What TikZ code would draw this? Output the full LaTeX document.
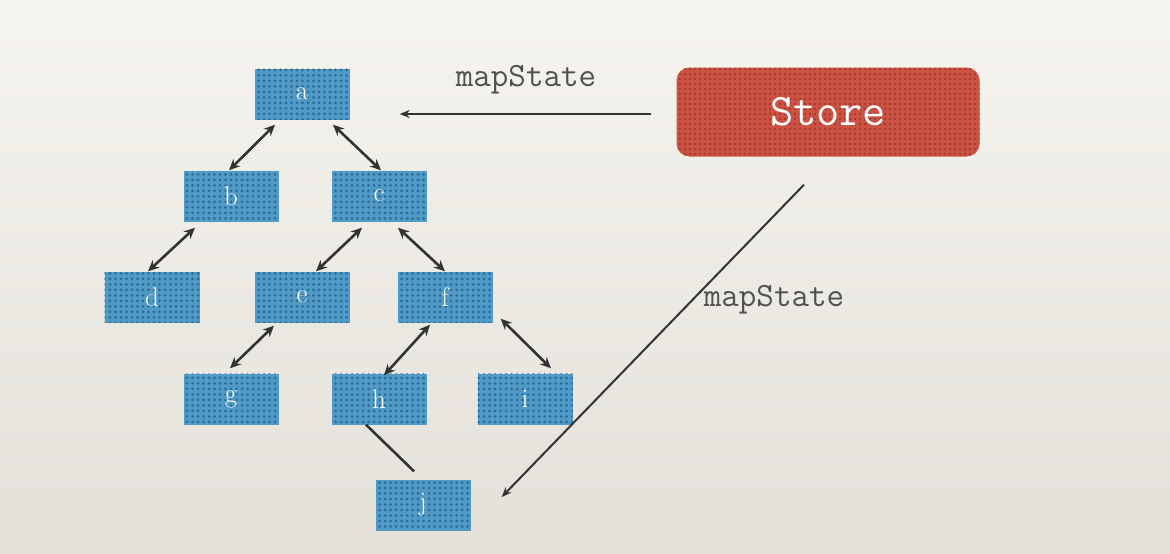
\documentclass[tikz,border=0pt]{standalone}
\usetikzlibrary{arrows.meta,patterns.meta}
\definecolor{bgtop}{HTML}{F6F4EE}
\definecolor{bgbot}{HTML}{E2E0D9}
\definecolor{boxblue}{HTML}{519AC6}
\definecolor{dotblue}{HTML}{2A6A98}
\definecolor{storered}{HTML}{CC5244}
\definecolor{dotred}{HTML}{A63A2E}
\definecolor{linec}{HTML}{333333}
\definecolor{labelc}{HTML}{505050}
\tikzset{
  tbox/.style={rectangle, minimum width=95pt, minimum height=51pt, inner sep=0pt,
    fill=boxblue, postaction={pattern={Dots[radius=1.5pt,distance=5.5pt]}, pattern color=dotblue},
    text=white, font=\fontsize{27}{27}\selectfont},
  storebox/.style={rectangle, rounded corners=13pt, minimum width=303pt, minimum height=89pt, inner sep=0pt,
    fill=storered, postaction={pattern={Dots[radius=1.3pt,distance=5pt]}, pattern color=dotred},
    text=white, font=\ttfamily\fontsize{45}{45}\selectfont},
  dbl/.style={{Stealth[length=11pt,width=10pt]}-{Stealth[length=11pt,width=10pt]}, line width=2.6pt, draw=linec},
  sgl/.style={-{Stealth[length=10pt,width=8pt]}, line width=2pt, draw=linec},
  plain/.style={line width=2.6pt, draw=linec},
  lbl/.style={text=labelc, font=\ttfamily\fontsize{34}{34}\selectfont, inner sep=0pt}
}
\begin{document}
\begin{tikzpicture}[x=1pt,y=-1pt]
\shade[top color=bgtop, bottom color=bgbot] (0,0) rectangle (1170,554);
\useasboundingbox (0,0) rectangle (1170,554);
\node[tbox] (a) at (302,94) {a};
\node[tbox] (b) at (231,196) {b};
\node[tbox] (c) at (379,196) {c};
\node[tbox] (d) at (152,297) {d};
\node[tbox] (e) at (302,297) {e};
\node[tbox] (f) at (445,297) {f};
\node[tbox] (g) at (231,399) {g};
\node[tbox] (h) at (379,399) {h};
\node[tbox] (i) at (525,399) {i};
\node[tbox] (j) at (423,505) {j};
\node[storebox] (store) at (828,112) {Store};
\node[lbl] (l1) at (526,80) {mapState};
\node[lbl] (l2) at (774,300) {mapState};
\draw[dbl] ([xshift=-27pt,yshift=-5pt]a.south) -- ([xshift=-2pt]b.north);
\draw[dbl] ([xshift=31pt,yshift=-5pt]a.south) -- ([xshift=2pt]c.north);
\draw[dbl] ([xshift=-36pt,yshift=-6pt]b.south) -- ([xshift=-4pt]d.north);
\draw[dbl] ([xshift=-17pt,yshift=-6pt]c.south) -- ([xshift=14pt]e.north);
\draw[dbl] ([xshift=19pt,yshift=-6pt]c.south) -- (f.north);
\draw[dbl] ([xshift=-28pt,yshift=-3pt]e.south) -- ([xshift=-1pt,yshift=5pt]g.north);
\draw[dbl] ([xshift=-15pt,yshift=-2pt]f.south) -- ([xshift=5pt,yshift=-2pt]h.north);
\draw[dbl] ([xshift=8pt,yshift=4pt]f.south east) -- ([xshift=26pt,yshift=5pt]i.north);
\draw[plain] ([xshift=-13pt]h.south) -- ([xshift=-9pt,yshift=8pt]j.north);
\draw[sgl] ([xshift=-25pt,yshift=-2pt]store.west) -- ([xshift=50pt,yshift=-20pt]a.east);
\draw[sgl] ([xshift=-24pt,yshift=-28pt]store.south) -- ([xshift=31pt,yshift=8pt]j.east);
\end{tikzpicture}
\end{document}
